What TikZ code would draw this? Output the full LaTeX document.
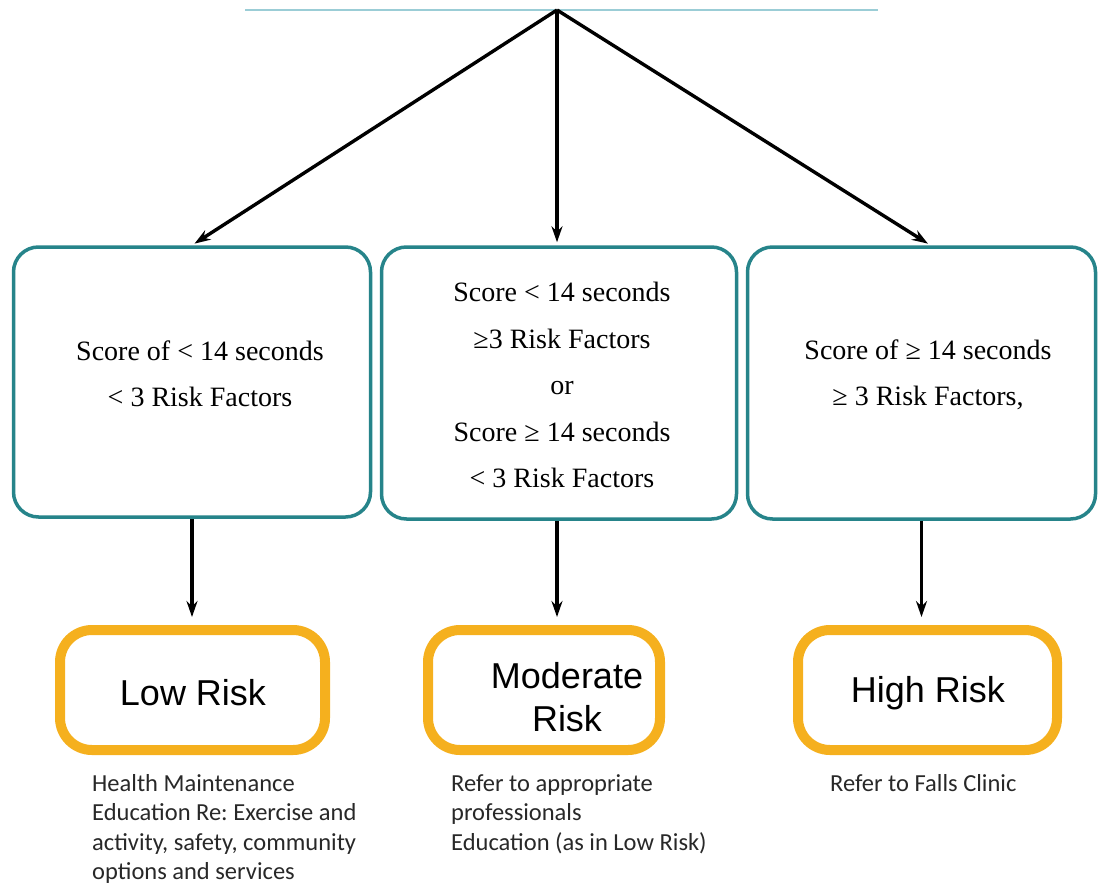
\documentclass[tikz,border=0pt]{standalone}
\usepackage{fontspec}
\setmainfont{Liberation Serif}
\newfontfamily\arialfont{Liberation Sans}
\newfontfamily\calibrifont{Carlito}
\usetikzlibrary{arrows.meta,positioning,calc}
\frenchspacing

\definecolor{boxteal}{RGB}{38,132,138}
\definecolor{riskorange}{RGB}{245,176,30}
\definecolor{toplineblue}{RGB}{155,205,214}
\definecolor{notegray}{RGB}{40,40,40}

\tikzset{
  scorebox/.style={draw=boxteal, line width=3.5pt, rounded corners=25pt, fill=white, inner sep=0pt},
  scoretext/.style={align=center, font=\fontsize{28}{46.5}\selectfont, inner sep=0pt},
  riskbox/.style={draw=riskorange, line width=10pt, rounded corners=32pt,
    minimum height=120pt, inner sep=0pt},
  risklabel/.style={font=\arialfont\fontsize{36}{43}\selectfont, align=center, inner sep=0pt},
  notetext/.style={font=\calibrifont\fontsize{24.5}{29.5}\selectfont, align=left,
    anchor=north west, inner sep=0pt, text=notegray},
  flowarrow/.style={-{Stealth[length=16pt,width=11pt]}, line width=3.4pt},
}

\begin{document}
\begin{tikzpicture}[x=1pt,y=-1pt]
  \useasboundingbox (0,0) rectangle (1099,886);

  % top line and branching point
  \coordinate (lineL) at (245,10);
  \coordinate (lineR) at (878,10);
  \coordinate (apex) at (557,10);
  \draw[toplineblue, line width=2pt] (lineL) -- (lineR);

  % score boxes
  \node[scorebox, minimum width=357, minimum height=270] (lowscore) at (192,382) {};
  \node[scorebox, minimum width=355, minimum height=272] (midscore) at (559,383) {};
  \node[scorebox, minimum width=348, minimum height=272] (highscore) at (921.5,383) {};
  \node[scoretext] (lowtext) at (200,374) {Score of < 14 seconds\\< 3 Risk Factors};
  \node[scoretext] (midtext) at (562,385)
    {Score < 14 seconds\\≥3 Risk Factors\\or\\Score ≥ 14 seconds\\< 3 Risk Factors};
  \node[scoretext] (hightext) at (928,375) {Score of ≥ 14 seconds\\≥ 3 Risk Factors,};

  % risk boxes
  \node[riskbox, minimum width=265] (lowrisk) at (192.5,690) {};
  \node[riskbox, minimum width=232] (midrisk) at (544,690) {};
  \node[riskbox, minimum width=259] (highrisk) at (927.5,690) {};
  \node[risklabel] (lowlabel) at (193,693) {Low Risk};
  \node[risklabel] (midlabel) at (567,697) {Moderate\\Risk};
  \node[risklabel] (highlabel) at (928,693) {High Risk};

  % arrows
  \draw[flowarrow, shorten >=3pt] (apex) -- (lowscore.north);
  \draw[flowarrow, shorten >=3pt] (apex) -- (midscore.north -| apex);
  \draw[flowarrow, shorten >=3pt] (apex) -- ([xshift=9pt]highscore.north);
  \draw[flowarrow, shorten >=8pt] (lowscore.south) -- (lowscore.south |- lowrisk.north);
  \draw[flowarrow, shorten >=8pt] (midscore.south -| apex) -- (apex |- midrisk.north);
  \draw[flowarrow, shorten >=8pt] (highscore.south) -- (highscore.south |- highrisk.north);

  % notes
  \node[notetext] (lownote) at (92,774)
    {Health Maintenance\\Education Re: Exercise and\\activity, safety, community\\options and services};
  \node[notetext] (midnote) at (451,774)
    {Refer to appropriate\\professionals\\Education (as in Low Risk)};
  \node[notetext] (highnote) at (830,774) {Refer to Falls Clinic};
\end{tikzpicture}
\end{document}
